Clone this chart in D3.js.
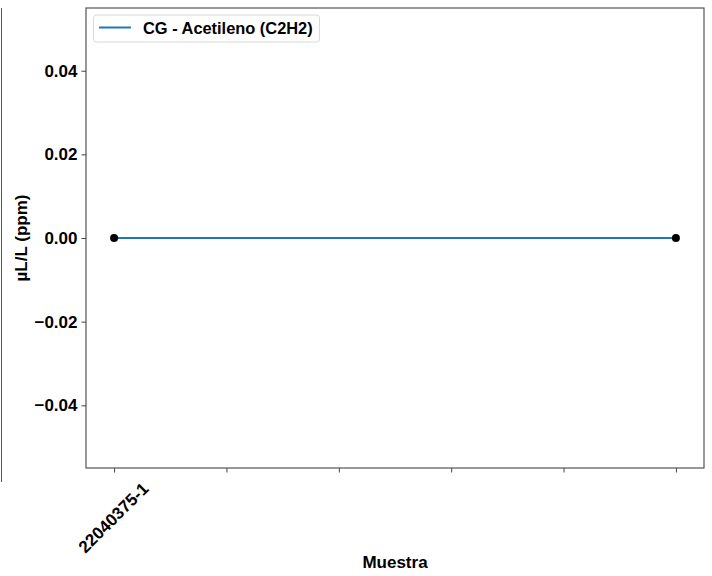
<!DOCTYPE html>
<html><head><meta charset="utf-8">
<script src="https://cdn.jsdelivr.net/npm/d3@7"></script>
<style>body{margin:0;background:#fff}svg{display:block}text{font-family:"Liberation Sans",Arial,Helvetica,sans-serif;font-weight:bold}</style>
</head><body>
<script>
const seriesName = "CG - Acetileno (C2H2)";
const xValues = [0, 1];
const yValues = [0, 0];
const xTickValues = [0, 0.2, 0.4, 0.6, 0.8, 1.0];
const xTickLabels = ["22040375-1", "", "", "", "", ""];
const yTickValues = [-0.04, -0.02, 0.00, 0.02, 0.04];
const xLabel = "Muestra";
const yLabel = "µL/L (ppm)";

const W = 712, H = 576;
const L = 86, R = 704, T = 8, B = 468;
const FS = 17;
const svg = d3.select("body").append("svg").attr("width", W).attr("height", H);

// stray frame edge at the far left
svg.append("line").attr("x1", 1.5).attr("x2", 1.5).attr("y1", 8).attr("y2", 482)
  .attr("stroke", "#555").attr("stroke-width", 1);

const x = d3.scaleLinear().domain([-0.05, 1.05]).range([L, R]);
const y = d3.scaleLinear().domain([-0.055, 0.055]).range([B, T]);

const fmtY = v => (v < 0 ? "\u2212" : "") + Math.abs(v).toFixed(2);

const yAxis = svg.append("g").attr("transform", `translate(${L},0)`)
  .call(d3.axisLeft(y).tickValues(yTickValues).tickFormat(fmtY).tickSizeOuter(0).tickSize(4.5).tickPadding(4));
yAxis.select(".domain").remove();
yAxis.selectAll("line").attr("stroke", "#444");
yAxis.selectAll("text").attr("font-size", FS).attr("fill", "#000").style("font-family", '"Liberation Sans",Arial,sans-serif').style("font-weight", "bold");

const xAxis = svg.append("g").attr("transform", `translate(0,${B})`)
  .call(d3.axisBottom(x).tickValues(xTickValues).tickFormat((d, i) => xTickLabels[i]).tickSizeOuter(0).tickSize(4.5));
xAxis.select(".domain").remove();
xAxis.selectAll("line").attr("stroke", "#444");
xAxis.selectAll("text")
  .attr("font-size", FS).attr("fill", "#000")
  .style("font-family", '"Liberation Sans",Arial,sans-serif').style("font-weight", "bold")
  .attr("text-anchor", "middle").attr("dy", null).attr("y", 0)
  .attr("dominant-baseline", "central")
  .attr("transform", "translate(-1,50) rotate(-45)");

// frame
svg.append("rect").attr("x", L).attr("y", T).attr("width", R - L).attr("height", B - T)
  .attr("fill", "none").attr("stroke", "#444").attr("stroke-width", 1.1);

// line
const line = d3.line().x((d, i) => x(xValues[i])).y(d => y(d));
svg.append("path").datum(yValues).attr("d", line).attr("fill", "none")
  .attr("stroke", "#1f77b4").attr("stroke-width", 2);
svg.selectAll("circle.pt").data(yValues).enter().append("circle")
  .attr("cx", (d, i) => x(xValues[i])).attr("cy", d => y(d)).attr("r", 4).attr("fill", "#000");

// legend
const lg = svg.append("g");
lg.append("rect").attr("x", 93.5).attr("y", 15).attr("width", 226).attr("height", 27).attr("rx", 3)
  .attr("fill", "#fff").attr("stroke", "#d8d8d8").attr("stroke-width", 1);
lg.append("line").attr("x1", 99).attr("x2", 131).attr("y1", 27.5).attr("y2", 27.5)
  .attr("stroke", "#1f77b4").attr("stroke-width", 2);
lg.append("text").attr("x", 143).attr("y", 34).attr("font-size", 16.4).text(seriesName);

// axis labels
svg.append("text").attr("x", (L + R) / 2).attr("y", 568).attr("text-anchor", "middle").attr("font-size", FS).text(xLabel);
svg.append("text").attr("transform", `translate(27,${(T + B) / 2}) rotate(-90)`).attr("text-anchor", "middle").attr("font-size", FS).text(yLabel);
</script>
</body></html>
